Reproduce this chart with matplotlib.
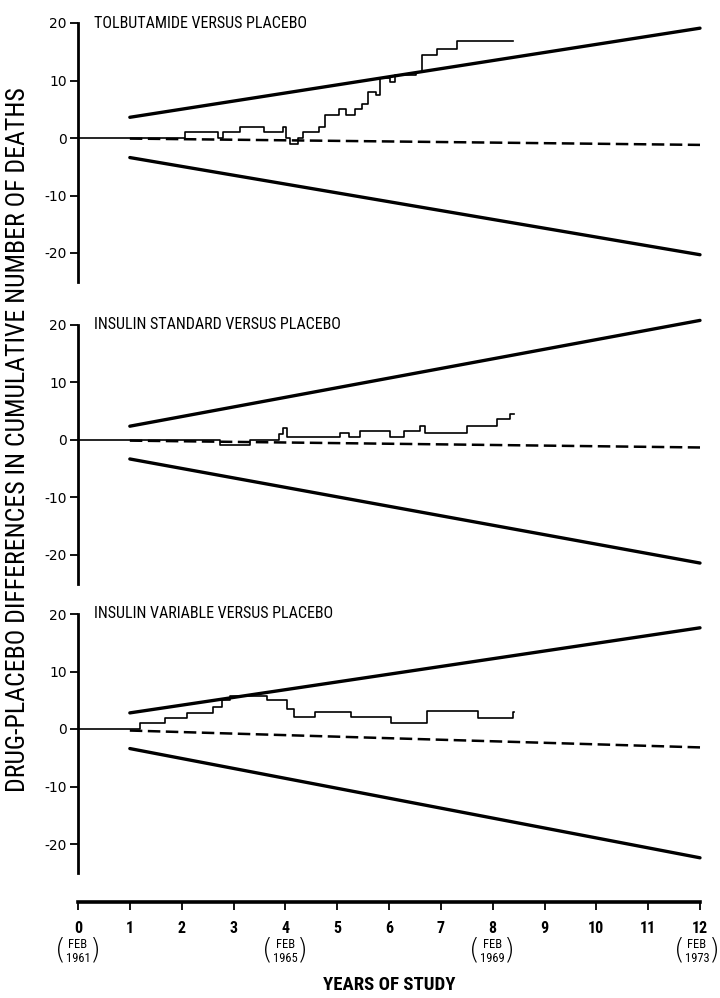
import matplotlib
matplotlib.use("Agg")
import matplotlib.pyplot as plt
from matplotlib import font_manager as fm

# ---- fonts: prefer a narrow sans for the lettering ---------------------------
_names = {(f.name, f.stretch) for f in fm.fontManager.ttflist}
_all_names = {n for n, _ in _names}
NARROW = None
for cand in ["Roboto Condensed", "Liberation Sans Narrow", "Open Sans Condensed",
             "Noto Sans Condensed"]:
    if cand in _all_names:
        NARROW = fm.FontProperties(family=cand)
        break
if NARROW is None:
    NARROW = fm.FontProperties(family="DejaVu Sans")
HAVE_NARROW = NARROW.get_family()[0] != "DejaVu Sans"


def nfont(size, weight="normal"):
    p = NARROW.copy()
    p.set_size(size)
    p.set_weight(weight)
    return p


# ---- data -----------------------------------------------------------------
panel_titles = [
    "TOLBUTAMIDE VERSUS PLACEBO",
    "INSULIN STANDARD VERSUS PLACEBO",
    "INSULIN VARIABLE VERSUS PLACEBO",
]

# cumulative drug-placebo death differences (step changes: year, value)
tolb_t = [0, 2.06, 2.71, 2.80, 3.12, 3.58, 3.96, 4.01, 4.09, 4.25, 4.35, 4.65, 4.76,
          5.03, 5.17, 5.34, 5.47, 5.60, 5.75, 5.83, 6.02, 6.12, 6.52, 6.63, 6.92,
          7.32, 8.40]
tolb_v = [0, 1, 0, 1, 2, 1, 2, 0, -1, 0, 1, 2, 4,
          5, 4, 5, 6, 8, 7.5, 10.5, 9.7, 11, 11.5, 14.5, 15.5,
          16.8, 16.8]

std_t = [0, 2.74, 3.32, 3.87, 3.95, 4.04, 5.06, 5.22, 5.44, 6.02, 6.28, 6.60, 6.70,
         7.50, 8.08, 8.34, 8.41]
std_v = [0, -0.8, 0, 1, 2, 0.6, 1.2, 0.5, 1.5, 0.5, 1.5, 2.4, 1.2,
         2.5, 3.6, 4.5, 4.5]

var_t = [0, 1.2, 1.68, 2.10, 2.61, 2.77, 2.93, 3.64, 4.03, 4.16, 4.58, 5.26, 6.03,
         6.74, 7.71, 8.39, 8.42]
var_v = [0, 1, 2, 2.8, 3.9, 5.0, 5.7, 5.0, 3.5, 2.1, 3.0, 2.1, 1.1,
         3.2, 2.0, 3.0, 3.0]

# boundary lines: values at year 1 and year 12
upper_bounds = [(3.6, 19.1), (2.4, 20.8), (2.8, 17.6)]
lower_bounds = [(-3.4, -20.3), (-3.3, -21.4), (-3.4, -22.4)]
# expected difference (dashed): values at year 0 and year 12
expected = [(0.0, -1.2), (0.0, -1.3), (0.0, -3.2)]

year_ticks = list(range(0, 13))
date_ticks = [0, 4, 8, 12]
date_years = ["1961", "1965", "1969", "1973"]
y_ticks = [-20, -10, 0, 10, 20]

series_t = [tolb_t, std_t, var_t]
series_v = [tolb_v, std_v, var_v]

# ---- layout -----------------------------------------------------------------
W, H = 720, 998
fig = plt.figure(figsize=(W / 100, H / 100), dpi=100)

x_left, x_right = 78, 700
panel_tops = [23, 325, 614]        # pixel row of the +20 level
px_per_unit = 5.75
ymin, ymax = -25, 20

for i in range(3):
    top = panel_tops[i]
    bottom = top + (ymax - ymin) * px_per_unit
    ax = fig.add_axes([x_left / W, 1 - bottom / H,
                       (x_right - x_left) / W, (bottom - top) / H])
    ax.set_xlim(0, 12)
    ax.set_ylim(ymin, ymax)
    for s in ["top", "right", "bottom"]:
        ax.spines[s].set_visible(False)
    ax.spines["left"].set_linewidth(2.0)
    ax.set_xticks([])
    ax.set_yticks(y_ticks)
    ax.set_yticklabels([str(v) for v in y_ticks])
    ax.tick_params(axis="y", direction="out", length=6, width=1.3, pad=2,
                   labelsize=10)
    ax.patch.set_alpha(0)

    (u0, u1), (l0, l1), (e0, e1) = upper_bounds[i], lower_bounds[i], expected[i]
    ax.plot([1, 12], [u0, u1], color="black", lw=2.4, solid_capstyle="round",
            clip_on=False)
    ax.plot([1, 12], [l0, l1], color="black", lw=2.4, solid_capstyle="round",
            clip_on=False)
    ax.plot([1, 12], [e0 + (e1 - e0) / 12, e1], color="black", lw=1.8,
            linestyle=(0, (5, 2.2)), clip_on=False)

    ax.step(series_t[i], series_v[i], where="post", color="black", lw=1.2,
            clip_on=False)

    ax.text(0.3, 20, panel_titles[i],
            fontproperties=nfont(11.5 if HAVE_NARROW else 9),
            va="center", ha="left")

# ---- shared x axis ----------------------------------------------------------
axis_y = 902
xa = fig.add_axes([x_left / W, 1 - axis_y / H, (x_right - x_left) / W, 0.0001])
xa.set_xlim(0, 12)
xa.set_ylim(0, 1)
for s in ["top", "right", "left"]:
    xa.spines[s].set_visible(False)
xa.spines["bottom"].set_linewidth(2.6)
xa.set_yticks([])
xa.set_xticks(year_ticks)
xa.set_xticklabels([str(v) for v in year_ticks])
xa.tick_params(axis="x", direction="out", length=6, width=1.3, pad=8)
for lab in xa.get_xticklabels():
    lab.set_fontproperties(nfont(11.5, "bold"))
xa.patch.set_alpha(0)

for x, yr in zip(date_ticks, date_years):
    xf = x_left + x * (x_right - x_left) / 12
    shift = -3 if x == 12 else 0
    fig.text((xf + shift) / W, 1 - 951 / H, "FEB\n" + yr, ha="center", va="center",
             fontproperties=nfont(9), linespacing=1.1)
    fig.text((xf + shift - 18) / W, 1 - 950 / H, "(", ha="center", va="center",
             fontsize=20, fontweight="light")
    fig.text((xf + shift + 17) / W, 1 - 950 / H, ")", ha="center", va="center",
             fontsize=20, fontweight="light")

fig.text((x_left + 6 * (x_right - x_left) / 12) / W, 1 - 985 / H,
         "YEARS OF STUDY", ha="center", va="center",
         fontproperties=nfont(13.5 if HAVE_NARROW else 10, "bold"))

fig.text(18 / W, 1 - 440 / H,
         "DRUG-PLACEBO DIFFERENCES IN CUMULATIVE NUMBER OF DEATHS",
         rotation=90, ha="center", va="center",
         fontproperties=nfont(18.5 if HAVE_NARROW else 14))

fig.savefig("out.png", dpi=100)
